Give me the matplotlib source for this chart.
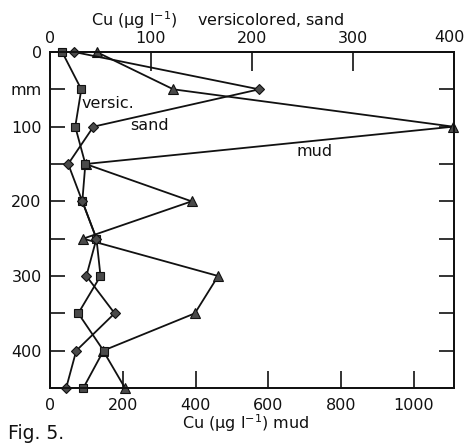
import matplotlib

matplotlib.use("Agg")
import matplotlib.pyplot as plt

plt.rcParams["font.family"] = "DejaVu Sans"

# depth below surface (mm)
depth = [0, 50, 100, 150, 200, 250, 300, 350, 400, 450]
# Cu (ug/l)
versic = [12, 31, 25, 35, 32, 46, 50, 28, 53, 33]
sand = [24, 207, 43, 18, 32, 46, 36, 64, 26, 16]
mud = [128, 339, 1108, 98, 389, 91, 462, 398, 146, 206]

y_ticks = [0, 50, 100, 150, 200, 250, 300, 350, 400, 450]
y_labels = ["0", "mm", "100", "", "200", "", "300", "", "400", ""]
top_ticks = [0, 100, 200, 300, 400]
top_labels = ["0", "100", "200", "300", ""]   # "400" placed by hand, it sits on the edge
bottom_ticks = [0, 200, 400, 600, 800, 1000]

W, H = 466, 443
fig = plt.figure(figsize=(W / 100, H / 100), dpi=100)
L, R, T, B = 50, 454, 52, 388
ax = fig.add_axes([L / W, 1 - B / H, (R - L) / W, (B - T) / H])
ax2 = ax.twiny()

FS = 11.5
INK = "#111111"
MFC = "#4a4a4a"
mk = dict(color=INK, lw=1.3, mfc=MFC, mec=INK, mew=0.8, clip_on=False)

# mud on the bottom axis
ax.plot(mud, depth, marker="^", ms=6.5, **mk)
ax.set_xlim(0, 1110)
ax.set_ylim(450, 0)

# versicolored and sand on the top axis
ax2.plot(versic, depth, marker="s", ms=5.5, **mk)
ax2.plot(sand, depth, marker="D", ms=5.5, **mk)
ax2.set_xlim(0, 400)
ax2.set_ylim(450, 0)

for a in (ax, ax2):
    for s in a.spines.values():
        s.set_linewidth(1.3)
        s.set_color(INK)

ax.set_xticks(bottom_ticks)
ax.set_xticklabels([str(t) for t in bottom_ticks])
ax.set_yticks(y_ticks)
ax.set_yticklabels(y_labels)
ax.yaxis.set_ticks_position("both")
ax.tick_params(axis="x", direction="in", length=12, width=1.2, pad=7, labelsize=FS, colors=INK)
ax.tick_params(axis="y", direction="in", length=11, width=1.2, pad=6, labelsize=FS, colors=INK)

ax2.set_xticks(top_ticks)
ax2.set_xticklabels(top_labels)
ax2.tick_params(axis="x", direction="in", length=14, width=1.2, pad=4, labelsize=FS, colors=INK)


def lab(x, y, s, **kw):
    kw.setdefault("fontsize", FS)
    kw.setdefault("ha", "left")
    kw.setdefault("va", "center")
    fig.text(x / W, 1 - y / H, s, color=INK, **kw)


lab(449, 38, "400", ha="center")

# in-plot series labels
lab(82, 103, "versic.")
lab(130, 125, "sand")
lab(296, 152, "mud")

lab(218, 20, r"Cu (µg l$^{-1}$)    versicolored, sand", ha="center")
lab(246, 423, r"Cu (µg l$^{-1}$) mud", ha="center")
lab(8, 424, "Fig. 5.", fontsize=13.5, va="top")

fig.savefig("out.png", dpi=100, facecolor="white")
